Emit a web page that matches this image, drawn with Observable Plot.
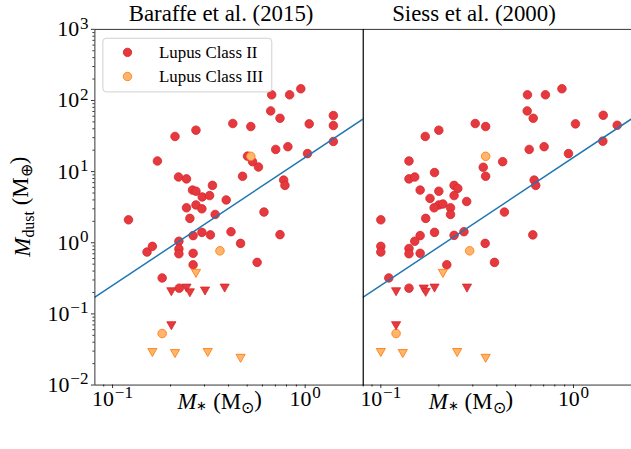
<!DOCTYPE html>
<html><head><meta charset="utf-8">
<script src="https://cdn.jsdelivr.net/npm/d3@7"></script>
<script src="https://cdn.jsdelivr.net/npm/@observablehq/plot@0.6"></script>
<style>
html,body{margin:0;padding:0;background:#fff;overflow:hidden;}
#chart{position:relative;width:631px;height:449px;overflow:hidden;background:#fff;}
</style></head><body><div id="chart"></div>
<script>
// ---- data (M* in solar masses, Mdust in Earth masses) ----
const panels = ["Baraffe et al. (2015)", "Siess et al. (2000)"];
const seriesNames = ["Lupus Class II", "Lupus Class III"];

const baraffeClassII = [[0.171,14.1],[0.211,31.2],[0.271,38.2],[0.220,8.4],[0.242,7.9],[0.260,5.5],[0.271,5.3],[0.330,6.4],[0.292,4.4],[0.319,4.6],[0.389,4.0],[0.421,47.4],[0.522,43.0],[0.473,8.6],[0.502,16.5],[0.533,13.8],[0.572,11.6],[0.670,120],[0.830,120],[0.949,146],[0.662,71.3],[0.740,56.2],[0.703,20.5],[0.813,22.4],[1.049,46.9],[1.40,61.3],[1.40,44.4],[1.40,26.5],[1.028,17.9],[0.773,7.6],[0.785,6.4],[0.242,3.1],[0.271,3.4],[0.291,3.0],[0.252,2.2],[0.341,2.5],[0.611,2.7],[0.121,2.1],[0.291,1.4],[0.262,1.26],[0.322,1.29],[0.412,1.43],[0.740,1.30],[0.221,1.05],[0.462,0.98],[0.151,0.74],[0.161,0.89],[0.221,0.82],[0.221,0.70],[0.262,0.71],[0.262,0.49],[0.563,0.53],[0.181,0.32],[0.222,0.23]];
const baraffeClassIII = [[0.522,16.4],[0.361,0.77],[0.181,0.053]];
const baraffeClassIIUpper = [[0.202,0.207],[0.242,0.233],[0.252,0.200],[0.302,0.212],[0.382,0.233],[0.202,0.069]];
const baraffeClassIIIUpper = [[0.271,0.375],[0.161,0.029],[0.211,0.028],[0.312,0.029],[0.462,0.024]];

const siessClassII = [[0.577,120],[0.715,120],[0.871,146],[0.575,71.3],[0.618,56.2],[0.309,47.4],[0.350,43.0],[1.024,46.9],[1.427,61.9],[1.686,44.8],[1.42,26.8],[0.942,17.9],[0.589,20.5],[0.704,22.4],[0.170,31.2],[0.200,38.2],[0.140,14.1],[0.140,7.9],[0.150,8.4],[0.190,9.7],[0.340,11.5],[0.429,13.8],[0.350,8.6],[0.625,7.6],[0.637,6.4],[0.160,5.5],[0.200,5.3],[0.180,4.2],[0.240,6.4],[0.251,5.8],[0.240,4.6],[0.279,3.8],[0.200,3.4],[0.210,3.5],[0.189,3.1],[0.230,3.1],[0.230,2.5],[0.171,2.2],[0.438,2.7],[0.100,2.1],[0.190,1.4],[0.160,1.26],[0.240,1.27],[0.270,1.43],[0.615,1.29],[0.150,1.05],[0.348,0.98],[0.100,0.89],[0.100,0.74],[0.140,0.83],[0.140,0.70],[0.160,0.71],[0.220,0.49],[0.389,0.53],[0.110,0.32],[0.140,0.23]];
const siessClassIII = [[0.350,16.4],[0.289,0.77],[0.120,0.053]];
const siessClassIIUpper = [[0.120,0.207],[0.167,0.226],[0.171,0.203],[0.190,0.233],[0.280,0.233],[0.120,0.069]];
const siessClassIIIUpper = [[0.210,0.375],[0.100,0.029],[0.130,0.028],[0.249,0.029],[0.350,0.024]];

// fitted relation (at the panel edges)
const fitMstar = [0.081, 2.0];
const fitMdust = [0.172, 55];

const yMajor = [0.01, 0.1, 1, 10, 100, 1000];
const yMinor = [0.02,0.03,0.04,0.05,0.06,0.07,0.08,0.09,0.2,0.3,0.4,0.5,0.6,0.7,0.8,0.9,2,3,4,5,6,7,8,9,20,30,40,50,60,70,80,90,200,300,400,500,600,700,800,900];
const xMajor = [0.1, 1];
const xMinor = [0.09,0.2,0.3,0.4,0.5,0.6,0.7,0.8,0.9,2];

// ---- build tables ----
const rows = (pairs, panel) => pairs.map(([x, y]) => ({panel, x, y}));
const classII = [...rows(baraffeClassII, panels[0]), ...rows(siessClassII, panels[1])];
const classIII = [...rows(baraffeClassIII, panels[0]), ...rows(siessClassIII, panels[1])];
const classIIUp = [...rows(baraffeClassIIUpper, panels[0]), ...rows(siessClassIIUpper, panels[1])];
const classIIIUp = [...rows(baraffeClassIIIUpper, panels[0]), ...rows(siessClassIIIUpper, panels[1])];
const fit = panels.flatMap(p => fitMstar.map((x, i) => ({panel: p, x, y: fitMdust[i]})));

const RED_FILL = "#e6393f", RED_STROKE = "#d62728";
const OR_FILL = "#ffb56e", OR_STROKE = "#ff7f0e";

const downTriangle = {
  draw(ctx, size) {
    const r = Math.sqrt(size / Math.PI);
    ctx.moveTo(-r, -r * 0.8);
    ctx.lineTo(r, -r * 0.8);
    ctx.lineTo(0, r * 0.95);
    ctx.closePath();
  }
};

const expFmt = d => "10^" + String(Math.round(Math.log10(d))).replace("-", "\u2212");

const plot = Plot.plot({
  width: 635, height: 449,
  marginLeft: 95, marginRight: 0, marginTop: 29, marginBottom: 62,
  style: {fontFamily: "'Liberation Serif', 'Times New Roman', serif", fontSize: "22px", background: "white", color: "black"},
  fx: {domain: panels, padding: 0, axis: null, label: null},
  x: {type: "log", domain: [0.081, 2.0]},
  y: {type: "log", domain: [0.01, 1000]},
  marks: [
    Plot.axisY({ticks: yMinor, tickSize: 2, tickFormat: () => "", label: null, strokeWidth: 0.8}),
    Plot.axisY({ticks: yMajor, tickSize: 3.5, tickPadding: 3, tickFormat: expFmt, label: null, strokeWidth: 0.8}),
    Plot.axisX({ticks: xMinor, tickSize: 2, tickFormat: () => "", label: null, strokeWidth: 0.8}),
    Plot.axisX({ticks: xMajor, tickSize: 3.5, tickPadding: 2, tickFormat: expFmt, label: null, strokeWidth: 0.8}),
    Plot.dot(classII, {x: "x", y: "y", fx: "panel", r: 4.3, fill: RED_FILL, stroke: RED_STROKE, strokeWidth: 0.8}),
    Plot.dot(classIII, {x: "x", y: "y", fx: "panel", r: 4.3, fill: OR_FILL, stroke: OR_STROKE, strokeWidth: 0.9}),
    Plot.dot(classIIUp, {x: "x", y: "y", fx: "panel", r: 4.6, symbol: downTriangle, fill: RED_FILL, stroke: RED_STROKE, strokeWidth: 0.8}),
    Plot.dot(classIIIUp, {x: "x", y: "y", fx: "panel", r: 4.6, symbol: downTriangle, fill: OR_FILL, stroke: OR_STROKE, strokeWidth: 0.9}),
    Plot.line(fit, {x: "x", y: "y", fx: "panel", stroke: "#1f77b4", strokeWidth: 1.5, clip: true}),
    Plot.frame({stroke: "black", strokeWidth: 0.8})
  ]
});

document.getElementById("chart").appendChild(plot);
const svg = d3.select(plot);

// superscript exponents in tick labels
svg.selectAll("text").each(function() {
  const t = this.textContent;
  const m = /^10\^(.+)$/.exec(t);
  if (!m) return;
  const el = d3.select(this);
  el.text(null);
  el.append("tspan").text("10");
  el.append("tspan").attr("dy", "-0.45em").attr("dx", "0.05em").attr("font-size", "78%").text(m[1]);
});

const font = "'Liberation Serif', 'Times New Roman', serif";

// panel titles
const titleX = [222.5, 477];
panels.forEach((p, i) => {
  svg.append("text").attr("x", titleX[i]).attr("y", 21).attr("text-anchor", "middle")
    .attr("font-family", font).attr("font-size", 23).attr("fill", "black").text(p);
});

// x labels
const xLabX = [221, 474];
xLabX.forEach(cx => {
  const t = svg.append("text").attr("x", cx).attr("y", 412).attr("text-anchor", "middle")
    .attr("font-family", font).attr("font-size", 23).attr("fill", "black");
  t.append("tspan").attr("font-style", "italic").text("M");
  t.append("tspan").attr("font-size", "55%").attr("dy", "0.05em").text("\u2217");
  t.append("tspan").attr("dy", "-0.05em").text(" (M");
  t.append("tspan").attr("font-size", "70%").attr("dy", "0.25em").text("\u2299");
  t.append("tspan").attr("dy", "-0.25em").text(")");
});

// y label
{
  const t = svg.append("text").attr("transform", "translate(30,208) rotate(-90)").attr("text-anchor", "middle")
    .attr("font-family", font).attr("font-size", 23).attr("fill", "black");
  t.append("tspan").attr("font-style", "italic").text("M");
  t.append("tspan").attr("font-size", "70%").attr("dy", "0.25em").text("dust");
  t.append("tspan").attr("dy", "-0.25em").text(" (M");
  t.append("tspan").attr("font-size", "70%").attr("dy", "0.25em").text("\u2295");
  t.append("tspan").attr("dy", "-0.25em").text(")");
}

// legend
{
  const g = svg.append("g");
  g.append("rect").attr("x", 103.5).attr("y", 38.5).attr("width", 170).attr("height", 54).attr("rx", 3.5)
    .attr("fill", "white").attr("fill-opacity", 0.8).attr("stroke", "#d0d0d0").attr("stroke-width", 1);
  const items = [[seriesNames[0], RED_FILL, RED_STROKE, 52.7, 58], [seriesNames[1], OR_FILL, OR_STROKE, 77, 82.5]];
  items.forEach(([name, f, s, cy, by]) => {
    g.append("circle").attr("cx", 128.3).attr("cy", cy).attr("r", 4.2).attr("fill", f).attr("stroke", s).attr("stroke-width", 0.9);
    g.append("text").attr("x", 160).attr("y", by).attr("text-anchor", "start")
      .attr("font-family", font).attr("font-size", 17).attr("fill", "black").text(name);
  });
}
</script></body></html>
